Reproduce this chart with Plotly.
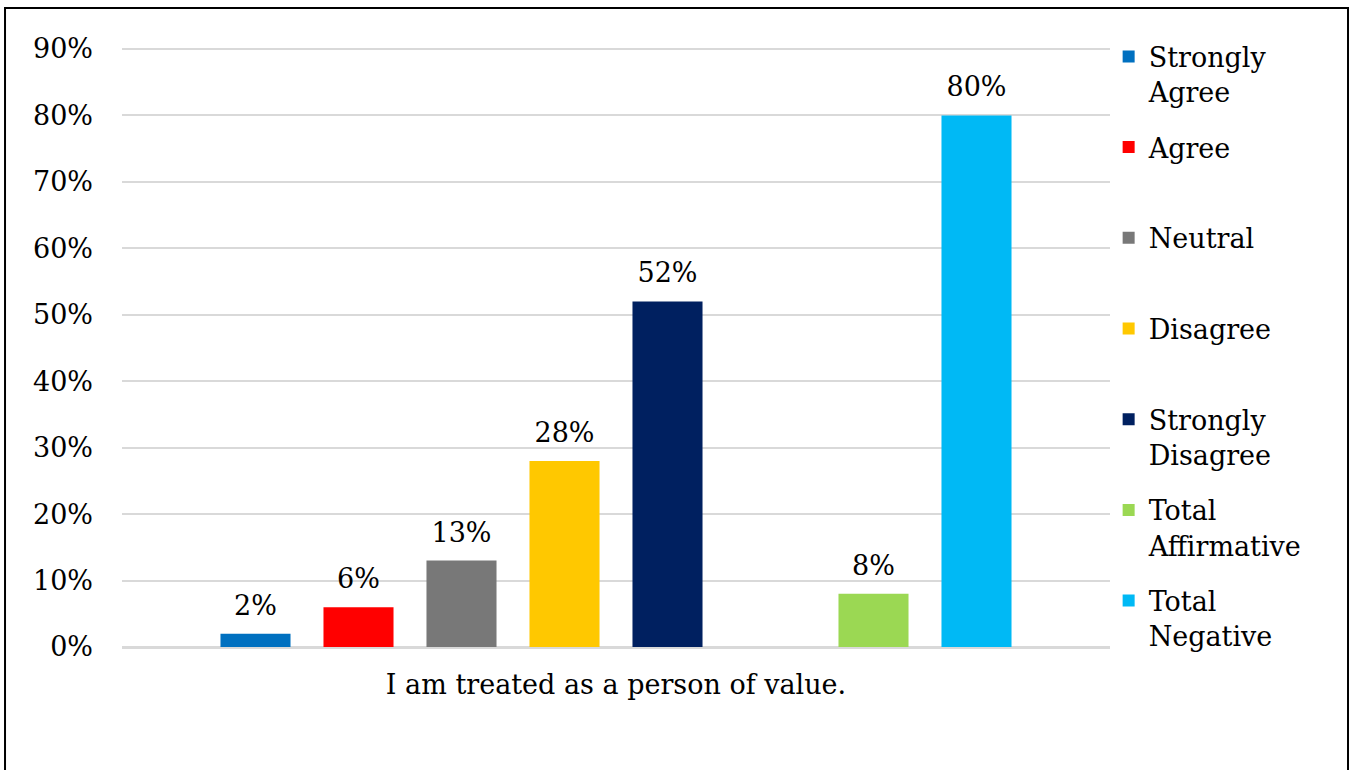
import plotly.graph_objects as go

category = ["I am treated as a person of value."]
series_names = ["Strongly Agree", "Agree", "Neutral", "Disagree", "Strongly Disagree",
                "Total Affirmative", "Total Negative"]
legend_labels = ["Strongly<br>Agree", "Agree<br>&nbsp;", "Neutral<br>&nbsp;", "Disagree<br>&nbsp;",
                 "Strongly<br>Disagree", "Total<br>Affirmative", "Total<br>Negative"]
series_values = [0.02, 0.06, 0.13, 0.28, 0.52, 0.08, 0.80]
series_colors = ["#0070C0", "#FF0000", "#787878", "#FFC800", "#002060", "#9BD853", "#00B9F5"]
y_ticks = [0, 0.1, 0.2, 0.3, 0.4, 0.5, 0.6, 0.7, 0.8, 0.9]

FONT = "Georgia, 'DejaVu Serif', serif"

# slot order: five detail series, an empty slot, two totals
slots = [(n, l, v, c) for n, l, v, c in zip(series_names, legend_labels, series_values, series_colors)]
slots.insert(5, None)

fig = go.Figure()
for k, s in enumerate(slots):
    og = "g%d" % k
    if s is None:
        fig.add_trace(go.Bar(x=category, y=[None], name="", showlegend=False, offsetgroup=og,
                             hoverinfo="skip", marker_color="rgba(0,0,0,0)"))
        fig.add_trace(go.Scatter(x=category, y=[None], mode="text", showlegend=False,
                                 offsetgroup=og, hoverinfo="skip"))
        continue
    name, lab, val, col = s
    fig.add_trace(go.Bar(
        x=category, y=[val], name=lab, legendgroup=name, offsetgroup=og,
        marker=dict(color=col, line=dict(width=0)),
    ))
    fig.add_trace(go.Scatter(
        x=category, y=[val], mode="markers+text", texttemplate="%{y:.0%}",
        textposition="top center",
        textfont=dict(family=FONT, size=27, color="#000000"),
        marker=dict(size=18, color="rgba(0,0,0,0)", line=dict(width=0)),
        showlegend=False, legendgroup=name, offsetgroup=og, hoverinfo="skip", cliponaxis=False,
    ))

fig.update_layout(
    width=1352, height=770,
    paper_bgcolor="white", plot_bgcolor="white",
    margin=dict(l=122, r=242, t=46, b=123, autoexpand=False),
    barmode="group", bargap=0.166, bargroupgap=0.32,
    scattermode="group", scattergap=0.166,
    font=dict(family=FONT, size=27, color="#000000"),
    showlegend=True,
    legend=dict(
        xref="container", yref="container",
        x=0.820, y=0.958, xanchor="left", yanchor="top",
        valign="top", tracegroupgap=17.5, maxheight=740,
        font=dict(family=FONT, size=27, color="#000000"),
        bgcolor="rgba(0,0,0,0)",
    ),
    xaxis=dict(
        showgrid=False, showline=False, ticks="",
        tickfont=dict(family=FONT, size=27, color="#000000"),
        ticklabelstandoff=19,
    ),
    yaxis=dict(
        range=[0, 0.9045], tickvals=y_ticks, tickformat=".0%",
        showgrid=True, gridcolor="#D9D9D9", gridwidth=1.5,
        zeroline=True, zerolinecolor="#D9D9D9", zerolinewidth=2.5,
        showline=False, ticks="",
        tickfont=dict(family=FONT, size=27, color="#000000"),
        ticklabelstandoff=28,
    ),
    shapes=[dict(type="rect", xref="paper", yref="paper",
                 x0=-0.1184, x1=1.2409, y0=-0.25, y1=1.0632,
                 line=dict(color="#000000", width=2), fillcolor="rgba(0,0,0,0)",
                 layer="above")],
)

fig.write_html("out.html", config={"displayModeBar": False},
               post_script="document.body.style.margin='0';document.body.style.padding='0';")
